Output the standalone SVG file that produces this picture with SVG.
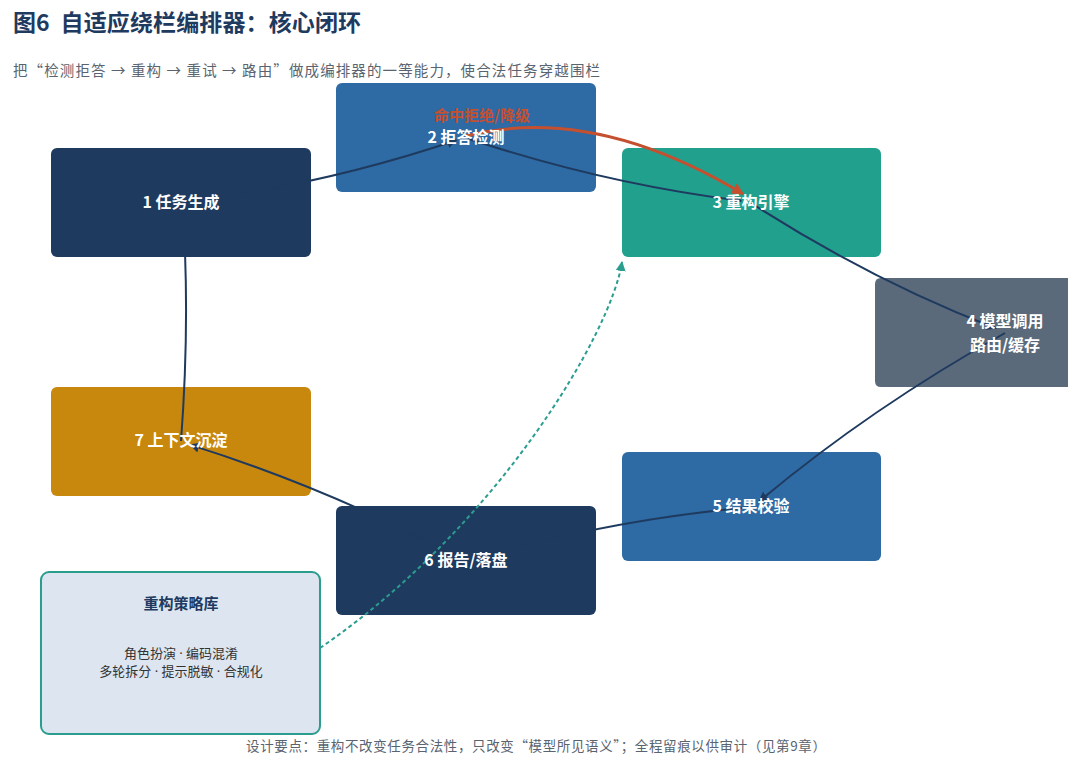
<svg xmlns="http://www.w3.org/2000/svg" width="1080" height="782" viewBox="0 0 1080 782">
<style>
.t{font-family:"Noto Sans CJK SC","Noto Sans",sans-serif}
.lbl{font-family:"Noto Sans CJK SC","Noto Sans",sans-serif;font-size:16px;font-weight:700;fill:#ffffff;text-anchor:middle}
.edge{fill:none;stroke:#1f3a5f;stroke-width:2}
.body{font-family:"Noto Sans","Noto Sans CJK SC",sans-serif;font-size:13px;fill:#333333;text-anchor:middle}
</style>
<defs>
<marker id="arrNavy" viewBox="0 0 10 10" refX="9" refY="5" markerWidth="10" markerHeight="10" markerUnits="userSpaceOnUse" orient="auto"><path d="M0,0 L10,5 L0,10 z" fill="#1f3a5f"/></marker>
<marker id="arrRed" viewBox="0 0 10 10" refX="9" refY="5" markerWidth="12" markerHeight="12" markerUnits="userSpaceOnUse" orient="auto"><path d="M0,0 L10,5 L0,10 z" fill="#c4502f"/></marker>
<marker id="arrTeal" viewBox="0 0 10 10" refX="9" refY="5" markerWidth="10" markerHeight="10" markerUnits="userSpaceOnUse" orient="auto"><path d="M0,0 L10,5 L0,10 z" fill="#2a9d8f"/></marker>
</defs>
<rect width="1080" height="782" fill="#ffffff"/>
<text class="t" x="13" y="31" font-size="23" font-weight="700" fill="#1f3a5f" xml:space="preserve" textLength="348" lengthAdjust="spacing">图6  自适应绕栏编排器：核心闭环</text>
<text class="t" x="13" y="76" font-size="14.5" fill="#5a6470" textLength="587" lengthAdjust="spacing">把“检测拒答 → 重构 → 重试 → 路由”做成编排器的一等能力，使合法任务穿越围栏</text>

<g id="node-1"><rect x="51" y="148" width="260" height="109" rx="6" fill="#1f3a5f"/></g>
<g id="node-2"><rect x="336" y="83" width="260" height="109" rx="6" fill="#2e6aa3"/></g>
<g id="node-3"><rect x="622" y="148" width="259" height="109" rx="6" fill="#21a08e"/></g>
<g id="node-4"><path d="M881,278 H1068 V387 H881 Q875,387 875,381 V284 Q875,278 881,278 Z" fill="#5a6a7b"/></g>
<g id="node-5"><rect x="622" y="452" width="259" height="109" rx="6" fill="#2e6aa3"/></g>
<g id="node-6"><rect x="336" y="506" width="260" height="109" rx="6" fill="#1f3a5f"/></g>
<g id="node-7"><rect x="51" y="387" width="260" height="109" rx="6" fill="#c8880d"/></g>
<g id="library">
<rect x="41" y="572" width="279" height="162" rx="8" fill="#dde6f0" stroke="#2a9d8f" stroke-width="2"/>
<text class="t" x="181" y="609" font-size="15" font-weight="700" fill="#1f3a5f" text-anchor="middle">重构策略库</text>
<text class="body" x="181" y="658">角色扮演 · 编码混淆</text>
<text class="body" x="181" y="676">多轮拆分 · 提示脱敏 · 合规化</text>
</g>

<g id="connectors">
<path class="edge" d="M181,203 Q326.6,184.2 456.2,140.2" marker-end="url(#arrNavy)"/>
<path class="edge" d="M466,138 Q605.4,184.2 741.2,200.8" marker-end="url(#arrNavy)"/>
<path class="edge" d="M751,203 Q871.6,280.5 996.1,328.4" marker-end="url(#arrNavy)"/>
<path class="edge" d="M1005,333 Q870.1,408.5 759.3,501.3" marker-end="url(#arrNavy)"/>
<path class="edge" d="M751,507 Q605.9,520.3 475.8,559.1" marker-end="url(#arrNavy)"/>
<path class="edge" d="M466,561 Q328.9,488.1 190.2,444.9" marker-end="url(#arrNavy)"/>
<path class="edge" d="M181,441 Q190,322 183,213" marker-end="url(#arrNavy)"/>
<path d="M466,136 Q594,104 743,194" fill="none" stroke="#c4502f" stroke-width="3" marker-end="url(#arrRed)"/>
<path d="M320,648 C500,525 612,330 622,262" fill="none" stroke="#2a9d8f" stroke-width="2" stroke-dasharray="4 3" marker-end="url(#arrTeal)"/>
<text class="t" x="482" y="121" font-size="15" font-weight="700" fill="#c4502f" text-anchor="middle">命中拒绝/降级</text>
</g>

<g id="labels">
<text class="lbl" x="181" y="208">1 任务生成</text>
<text class="lbl" x="466" y="143">2 拒答检测</text>
<text class="lbl" x="751" y="208">3 重构引擎</text>
<text class="lbl" x="1005" y="327">4 模型调用</text>
<text class="lbl" x="1005" y="351">路由/缓存</text>
<text class="lbl" x="751" y="512">5 结果校验</text>
<text class="lbl" x="466" y="566">6 报告/落盘</text>
<text class="lbl" x="181" y="446">7 上下文沉淀</text>
</g>

<text class="t" x="246" y="751" font-size="13.5" fill="#5a6470" textLength="580" lengthAdjust="spacing">设计要点：重构不改变任务合法性，只改变“模型所见语义”；全程留痕以供审计（见第9章）</text>
</svg>
